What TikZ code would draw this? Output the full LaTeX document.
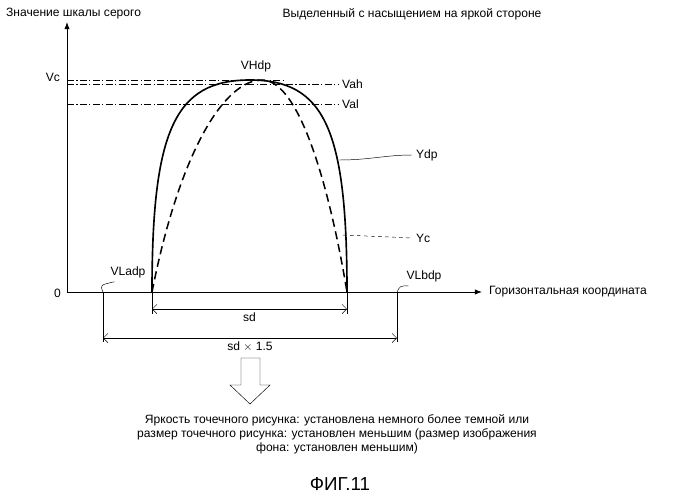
\documentclass[tikz,border=0pt]{standalone}
\usepackage{fontspec}
\setmainfont{Liberation Sans}
\usetikzlibrary{arrows.meta}
\begin{document}
\begin{tikzpicture}[x=0.03cm,y=-0.03cm,font=\fontsize{10.3}{12}\selectfont,
    dashdot/.style={dash pattern=on 6pt off 2pt on 1pt off 2pt,thin},
    dim/.style={{Straight Barb[length=4pt]}-{Straight Barb[length=4pt]},thin}]
          \useasboundingbox (0,0) rectangle (688,500);
          % Axes
          \coordinate (origin) at (67,292);
          \draw[-{Latex[length=6pt]},thick] (origin) -- (67,22);
          \draw[-{Latex[length=6pt]},thick] (origin) -- (482,292);
          \node[anchor=west] (ylabel) at (2,14) {Значение шкалы серого};
          \node[anchor=west] (xlabel) at (485,292) {Горизонтальная координата};
          \node (title) at (412,14) {Выделенный с насыщением на яркой стороне};
          \node[anchor=east] (zero) at (65,293) {0};
          \node[anchor=east] (vc) at (64,77) {Vc};
          % Levels
          \draw[dashdot] (67,80) -- (285,80);
          \draw[dashdot] (67,84) -- (338,84) node[anchor=west] (vah) {Vah};
          \draw[dashdot] (67,104) -- (338,104) node[anchor=west] (val) {Val};
          % Curves
          \draw[line width=1.4pt] (152,292) .. controls (152,130) and (175,80) .. (250,80)
              .. controls (325,80) and (347,130) .. (347,292);
          \draw[line width=1.3pt,dash pattern=on 7pt off 4pt] (152,292) .. controls (180,150) and (225,80) .. (262,80)
              .. controls (300,80) and (330,190) .. (347,292);
          \node (vhdp) at (256,66) {VHdp};
          \node[anchor=west] (ydp) at (412,155) {Ydp};
          \node[anchor=west] (yc) at (412,238) {Yc};
          \draw[thin] (339,160) .. controls (370,160) and (385,155) .. (ydp.west);
          \draw[thin,dashed] (343,235) -- (ydp.west |- yc.west);
          \node (vladp) at (128,272) {VLadp};
          \node (vlbdp) at (424,276) {VLbdp};
          \draw[thin] (vladp.south west) ++(8,0) .. controls (100,285) .. (103,292);
          \draw[thin] (vlbdp.south west) ++(6,0) .. controls (400,286) .. (397,292);
          % Dimensions
          \coordinate (sda) at (152,309);
          \coordinate (sdb) at (347,309);
          \coordinate (sdc) at (103,338);
          \coordinate (sdd) at (397,338);
          \draw[thin] (152,292) -- (152,314) (347,292) -- (347,314);
          \draw[thin] (103,292) -- (103,342) (397,292) -- (397,342);
          \draw[dim] (sda) -- node[below] (sd) {sd} (sdb);
          \draw[dim] (sdc) -- node[below] (sd15) {sd $\times$ 1.5} (sdd);
          % Hollow arrow
          \draw[thin] (241,358) -- (241,385) -- (230,385) -- (250,404) -- (270,385) -- (260,385) -- (260,358) -- cycle;
          \node[align=center] (result) at (337,434) {Яркость точечного рисунка: установлена немного более темной или\\
              размер точечного рисунка: установлен меньшим (размер изображения\\ фона: установлен меньшим)};
          \node[font=\fontsize{16}{18}\selectfont] (fig) at (340,484) {ФИГ.11};
        \end{tikzpicture}
\end{document}
